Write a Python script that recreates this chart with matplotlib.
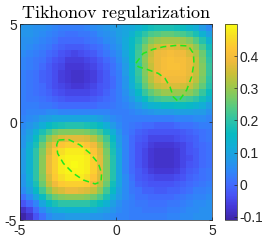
import numpy as np
import matplotlib
matplotlib.use('Agg')
import matplotlib.pyplot as plt
from matplotlib.colors import LinearSegmentedColormap

plt.rcParams['axes.unicode_minus'] = False
plt.rcParams['mathtext.fontset'] = 'cm'
plt.rcParams['font.family'] = ['Liberation Sans', 'DejaVu Sans']

# ---------------- data ----------------
x_limits = [-5, 5]
y_limits = [-5, 5]
axis_ticks = [-5, 0, 5]
axis_tick_labels = ['-5', '0', '5']
cbar_ticks = [-0.1, 0, 0.1, 0.2, 0.3, 0.4]
cbar_tick_labels = ['-0.1', '0', '0.1', '0.2', '0.3', '0.4']
title_text = r'$\mathrm{Tikhonov\ regularization}$'

# reconstructed values x100; rows run from y=-5 (bottom) to y=5 (top),
# columns from x=-5 (left) to x=5 (right)
field_pct = [
 [-11,-8,-3,1,5,7,7,8,8,8,8,7,7,6,5,4,4,3,3,3,3,3,3,4,4,5,5,6,6,6],
 [-8,-5,0,5,9,11,12,13,13,13,13,12,10,9,7,5,4,3,3,2,2,2,2,3,3,4,5,5,6,6],
 [-3,0,4,10,15,18,20,20,20,20,20,18,16,13,9,6,4,3,2,2,1,1,1,2,2,3,4,5,5,6],
 [1,5,10,16,22,26,28,29,29,29,28,26,23,18,12,8,5,3,1,1,0,0,0,0,1,2,3,4,4,5],
 [5,9,15,22,29,34,36,38,38,37,36,34,29,22,15,9,5,2,1,-1,-1,-2,-2,-1,-1,0,1,3,3,4],
 [7,11,18,26,34,39,43,44,44,44,43,39,33,26,17,10,5,2,-1,-2,-3,-3,-3,-3,-2,-1,0,1,2,3],
 [7,12,20,28,36,43,46,48,48,48,46,42,36,28,19,10,5,1,-2,-3,-4,-5,-5,-5,-4,-3,-1,0,1,2],
 [8,13,20,29,38,44,48,49,49,49,48,44,37,28,19,10,4,0,-2,-4,-6,-7,-7,-7,-6,-4,-2,-1,1,2],
 [8,13,20,29,38,44,48,49,50,49,48,44,37,28,19,10,4,0,-3,-5,-7,-8,-8,-8,-7,-5,-3,-2,0,1],
 [8,13,20,29,38,44,48,49,49,49,48,44,37,28,19,10,4,0,-3,-5,-7,-8,-8,-8,-7,-5,-4,-2,0,1],
 [8,13,20,28,36,43,46,48,48,48,46,42,36,27,18,10,4,0,-3,-5,-7,-8,-8,-8,-7,-5,-3,-2,0,1],
 [7,12,18,26,34,39,42,44,44,44,42,39,33,25,17,9,4,0,-3,-4,-6,-7,-7,-7,-6,-5,-3,-1,0,1],
 [7,10,16,22,29,33,36,37,37,37,36,33,28,22,15,8,4,0,-2,-3,-5,-5,-5,-5,-4,-3,-2,-1,1,2],
 [6,9,13,18,22,26,28,28,28,28,27,25,22,17,12,7,3,1,-1,-2,-3,-3,-3,-3,-3,-2,-1,0,1,2],
 [5,7,9,12,15,17,18,19,19,19,18,17,15,12,8,5,3,2,1,0,0,-1,-1,-1,0,1,1,2,3,3],
 [4,5,6,8,9,10,10,10,10,10,10,10,9,7,5,4,3,3,3,3,3,3,3,3,4,4,4,5,5,4],
 [3,4,4,4,5,5,4,4,4,4,4,4,4,4,3,3,3,4,5,6,7,8,8,8,9,9,9,8,8,6],
 [3,3,3,2,2,1,0,0,0,0,0,0,1,1,2,3,4,6,8,11,13,14,15,15,16,16,15,14,12,9],
 [3,2,2,1,0,-1,-2,-3,-3,-3,-3,-2,-1,0,1,3,5,8,12,16,20,22,23,23,23,23,22,20,17,13],
 [3,2,1,0,-1,-3,-4,-5,-5,-5,-5,-4,-3,-1,1,3,6,10,15,21,25,28,30,30,30,30,29,26,21,16],
 [3,2,1,0,-2,-4,-5,-6,-7,-7,-6,-5,-3,-2,0,3,7,12,18,25,30,34,35,36,36,35,34,30,25,19],
 [3,2,1,-1,-2,-4,-6,-7,-8,-8,-7,-6,-4,-2,0,3,7,13,20,27,33,37,39,39,39,39,37,33,27,20],
 [3,2,1,-1,-2,-4,-6,-7,-8,-8,-7,-6,-4,-2,1,3,8,14,21,28,34,38,40,40,40,40,38,34,28,21],
 [4,3,2,0,-2,-4,-5,-7,-7,-7,-6,-5,-3,-1,1,4,8,14,21,28,34,38,40,41,41,40,38,34,28,21],
 [4,3,2,1,-1,-3,-4,-6,-6,-6,-5,-4,-2,0,2,5,9,15,22,29,35,38,40,41,40,40,38,34,27,20],
 [5,4,3,2,0,-1,-3,-4,-5,-4,-3,-2,0,2,4,6,10,15,22,28,34,38,39,40,39,39,36,32,26,19],
 [6,5,4,3,2,0,-1,-2,-2,-2,-1,0,1,3,5,7,11,15,21,27,32,35,36,37,36,35,33,29,23,17],
 [6,6,5,4,3,2,0,0,0,0,1,2,3,5,6,8,11,15,19,24,28,30,31,31,31,30,28,24,19,13],
 [7,7,6,5,4,3,2,1,1,2,2,3,5,6,7,9,10,13,17,20,23,24,25,25,24,23,21,18,13,9],
 [7,7,6,6,5,4,3,3,3,3,4,5,6,7,8,9,10,11,13,15,17,18,18,18,17,16,14,12,8,5],
]

# dashed green outlines (true inclusions)
contour_upper_x = [1.04, 1.42, 1.94, 2.47, 3.16, 3.77, 4.03, 4.06, 3.94, 3.68, 3.25,
                   2.98, 2.81, 2.55, 2.20, 1.60, 1.16]
contour_upper_y = [3.00, 3.50, 3.71, 3.84, 3.91, 3.88, 3.50, 3.00, 2.31, 1.63, 1.04,
                   1.29, 1.80, 2.23, 2.48, 2.69, 2.82]
contour_lower_x = [-3.00, -2.48, -1.88, -1.35, -0.92, -0.75, -0.78, -1.09, -1.70,
                   -2.22, -2.74, -3.04, -3.09]
contour_lower_y = [-0.92, -0.89, -1.17, -1.60, -2.11, -2.62, -3.05, -3.16, -2.96,
                   -2.62, -2.11, -1.60, -1.17]

# ---------------- parula-like colormap ----------------
parula_anchors = [
    (0.000, (0.2422, 0.1504, 0.6603)),
    (0.063, (0.2700, 0.2150, 0.8350)),
    (0.125, (0.2810, 0.3228, 0.9579)),
    (0.188, (0.2500, 0.4300, 0.9950)),
    (0.250, (0.1800, 0.5300, 0.9700)),
    (0.313, (0.1300, 0.6100, 0.9000)),
    (0.375, (0.0700, 0.6800, 0.8400)),
    (0.438, (0.0300, 0.7300, 0.7600)),
    (0.500, (0.1600, 0.7600, 0.6700)),
    (0.563, (0.3000, 0.7900, 0.5400)),
    (0.625, (0.4700, 0.7950, 0.4000)),
    (0.688, (0.6400, 0.7800, 0.2800)),
    (0.750, (0.8000, 0.7500, 0.2200)),
    (0.813, (0.9400, 0.7300, 0.2400)),
    (0.875, (0.9950, 0.7700, 0.2100)),
    (0.938, (0.9700, 0.8700, 0.1500)),
    (1.000, (0.9769, 0.9839, 0.0805)),
]
parula = LinearSegmentedColormap.from_list('parula', parula_anchors, N=256)

# ---------------- figure ----------------
Z = np.array(field_pct, dtype=float) / 100.0
ny, nx = Z.shape
x_edges = np.linspace(x_limits[0], x_limits[1], nx + 1)
y_edges = np.linspace(y_limits[0], y_limits[1], ny + 1)

W, H = 262, 242
fig = plt.figure(figsize=(W / 100, H / 100), dpi=100)
ax = fig.add_axes([20 / W, 22 / H, 192 / W, 196 / H])
cax = fig.add_axes([225 / W, 22 / H, 12 / W, 196 / H])

mesh = ax.pcolormesh(x_edges, y_edges, Z, cmap=parula, shading='flat',
                     vmin=Z.min(), vmax=Z.max(), antialiased=False)

green = '#1ee81e'
ax.plot(contour_upper_x + contour_upper_x[:1], contour_upper_y + contour_upper_y[:1],
        color=green, lw=1.1, linestyle=(0, (4, 2.6)))
ax.plot(contour_lower_x + contour_lower_x[:1], contour_lower_y + contour_lower_y[:1],
        color=green, lw=1.1, linestyle=(0, (4, 2.6)))

ax.set_xlim(x_limits)
ax.set_ylim(y_limits)
ax.set_xticks(axis_ticks)
ax.set_xticklabels(axis_tick_labels)
ax.set_yticks(axis_ticks)
ax.set_yticklabels(axis_tick_labels)
ax.tick_params(direction='in', length=2.5, width=0.5, top=True, right=True,
               labelsize=10, colors='#262626')
ax.tick_params(axis='x', pad=3)
ax.tick_params(axis='y', pad=2)
for s in ax.spines.values():
    s.set_linewidth(0.5)
    s.set_color('#262626')

ax.set_title(title_text, fontsize=13, pad=4, color='black')

cb = fig.colorbar(mesh, cax=cax, ticks=cbar_ticks)
cb.ax.set_yticklabels(cbar_tick_labels)
cb.ax.tick_params(direction='in', length=2.5, width=0.5, labelsize=10, pad=2,
                  colors='#262626')
cb.outline.set_linewidth(0.5)
cb.outline.set_edgecolor('#262626')

fig.savefig('out.png', dpi=100)
